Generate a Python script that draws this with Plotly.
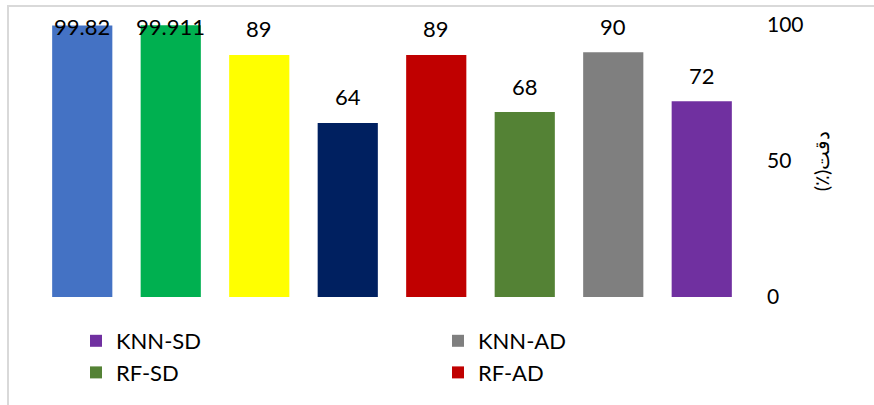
import plotly.graph_objects as go

# ---- data ----
categories = ["B1", "B2", "B3", "B4", "B5", "B6", "B7", "B8"]
series_names = ["", "", "", "", "RF-AD", "RF-SD", "KNN-AD", "KNN-SD"]
values = [99.82, 99.911, 89, 64, 89, 68, 90, 72]
value_labels = ["99.82", "99.911", "89", "64", "89", "68", "90", "72"]
colors = ["#4472C4", "#00B050", "#FFFF00", "#002060", "#C00000", "#548235", "#7F7F7F", "#7030A0"]
legend_rank = [None, None, None, None, 4, 3, 2, 1]
y_ticks = [0, 50, 100]
y_title = "\u200fدقت(٪)\u200f"

W, H = 874, 405
ml, mr, mt, mb = 38, 10, 25, 108
gs_w = W - ml - mr
bars_w = 708                      # width of the bar area in px
dom_end = bars_w / gs_w
plot_h = H - mt - mb
px_per_unit = plot_h / 100.0

FONT = "Lato, Open Sans, sans-serif"

fig = go.Figure()
for i, (c, v, col) in enumerate(zip(categories, values, colors)):
    show = series_names[i] != ""
    fig.add_trace(go.Bar(
        x=[c], y=[v], name=series_names[i] if show else c,
        marker=dict(color=col, line=dict(width=0)),
        width=0.68, showlegend=show,
        legendrank=legend_rank[i] if show else 1000,
        hoverinfo="skip",
    ))

# data labels above bars (kept inside the chart area like the original)
label_pad = 26 / px_per_unit
label_max = 100 - 1 / px_per_unit
annotations = []
for c, v, t in zip(categories, values, value_labels):
    annotations.append(dict(
        x=c, y=min(v + label_pad, label_max), xref="x", yref="y",
        text=t, showarrow=False, yanchor="middle", xanchor="center",
        font=dict(family=FONT, size=22, color="#000000"),
    ))

# outer chart border (light gray)
x0 = (8 - ml) / gs_w
x1 = (W + 10 - ml) / gs_w
y1 = (H - mb - 6) / plot_h
y0 = (H - mb - H - 10) / plot_h
shapes = [dict(type="rect", xref="paper", yref="paper", x0=x0, x1=x1, y0=y0, y1=y1,
               line=dict(color="#D9D9D9", width=2), fillcolor="rgba(0,0,0,0)", layer="below")]

fig.update_layout(
    width=W, height=H,
    margin=dict(l=ml, r=mr, t=mt, b=mb, autoexpand=False),
    paper_bgcolor="white", plot_bgcolor="white",
    barmode="overlay",
    font=dict(family=FONT, size=21, color="#000000"),
    xaxis=dict(type="category", categoryorder="array", categoryarray=categories,
               domain=[0, dom_end],
               showticklabels=False, showgrid=False, zeroline=False, showline=False,
               ticks=""),
    yaxis=dict(side="right", anchor="free", position=dom_end, automargin=False,
               range=[0, 100], tickvals=y_ticks, showgrid=False,
               zeroline=False, showline=False, ticks="",
               ticklabelstandoff=20,
               tickfont=dict(family=FONT, size=21, color="#000000"),
               title=dict(text=y_title, font=dict(family=FONT, size=20, color="#000000"),
                          standoff=12)),
    legend=dict(orientation="h", x=(76 - ml) / gs_w, xanchor="left",
                y=(H - mb - 320) / plot_h, yanchor="top",
                entrywidth=317, entrywidthmode="pixels",
                font=dict(family=FONT, size=22, color="#000000"),
                bgcolor="rgba(0,0,0,0)", traceorder="normal"),
    annotations=annotations,
    shapes=shapes,
)

fig.write_html("out.html")
